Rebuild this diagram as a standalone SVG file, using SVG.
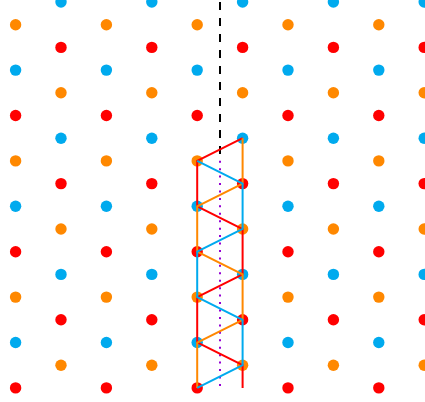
<svg xmlns="http://www.w3.org/2000/svg" width="425" height="402" viewBox="0 0 425 402">
<style>
.b{fill:#00aaee}.o{fill:#ff8800}.r{fill:#ff0000}
circle{stroke:none}
.ln{fill:none;stroke-width:2;stroke-linejoin:miter}
</style>
<rect width="425" height="402" fill="#ffffff"/>
<g id="lattice">
<g id="blue-dots" class="b">
<circle cx="61" cy="2" r="5.7"/><circle cx="151.8" cy="2" r="5.7"/><circle cx="242.6" cy="2" r="5.7"/><circle cx="333.4" cy="2" r="5.7"/><circle cx="424.2" cy="2" r="5.7"/>
<circle cx="15.6" cy="70.1" r="5.7"/><circle cx="106.4" cy="70.1" r="5.7"/><circle cx="197.2" cy="70.1" r="5.7"/><circle cx="288" cy="70.1" r="5.7"/><circle cx="378.8" cy="70.1" r="5.7"/>
<circle cx="61" cy="138.2" r="5.7"/><circle cx="151.8" cy="138.2" r="5.7"/><circle cx="242.6" cy="138.2" r="5.7"/><circle cx="333.4" cy="138.2" r="5.7"/><circle cx="424.2" cy="138.2" r="5.7"/>
<circle cx="15.6" cy="206.3" r="5.7"/><circle cx="106.4" cy="206.3" r="5.7"/><circle cx="197.2" cy="206.3" r="5.7"/><circle cx="288" cy="206.3" r="5.7"/><circle cx="378.8" cy="206.3" r="5.7"/>
<circle cx="61" cy="274.4" r="5.7"/><circle cx="151.8" cy="274.4" r="5.7"/><circle cx="242.6" cy="274.4" r="5.7"/><circle cx="333.4" cy="274.4" r="5.7"/><circle cx="424.2" cy="274.4" r="5.7"/>
<circle cx="15.6" cy="342.5" r="5.7"/><circle cx="106.4" cy="342.5" r="5.7"/><circle cx="197.2" cy="342.5" r="5.7"/><circle cx="288" cy="342.5" r="5.7"/><circle cx="378.8" cy="342.5" r="5.7"/>
</g>
<g id="orange-dots" class="o">
<circle cx="15.6" cy="24.7" r="5.7"/><circle cx="106.4" cy="24.7" r="5.7"/><circle cx="197.2" cy="24.7" r="5.7"/><circle cx="288" cy="24.7" r="5.7"/><circle cx="378.8" cy="24.7" r="5.7"/>
<circle cx="61" cy="92.8" r="5.7"/><circle cx="151.8" cy="92.8" r="5.7"/><circle cx="242.6" cy="92.8" r="5.7"/><circle cx="333.4" cy="92.8" r="5.7"/><circle cx="424.2" cy="92.8" r="5.7"/>
<circle cx="15.6" cy="160.9" r="5.7"/><circle cx="106.4" cy="160.9" r="5.7"/><circle cx="197.2" cy="160.9" r="5.7"/><circle cx="288" cy="160.9" r="5.7"/><circle cx="378.8" cy="160.9" r="5.7"/>
<circle cx="61" cy="229" r="5.7"/><circle cx="151.8" cy="229" r="5.7"/><circle cx="242.6" cy="229" r="5.7"/><circle cx="333.4" cy="229" r="5.7"/><circle cx="424.2" cy="229" r="5.7"/>
<circle cx="15.6" cy="297.1" r="5.7"/><circle cx="106.4" cy="297.1" r="5.7"/><circle cx="197.2" cy="297.1" r="5.7"/><circle cx="288" cy="297.1" r="5.7"/><circle cx="378.8" cy="297.1" r="5.7"/>
<circle cx="61" cy="365.2" r="5.7"/><circle cx="151.8" cy="365.2" r="5.7"/><circle cx="242.6" cy="365.2" r="5.7"/><circle cx="333.4" cy="365.2" r="5.7"/><circle cx="424.2" cy="365.2" r="5.7"/>
</g>
<g id="red-dots" class="r">
<circle cx="61" cy="47.4" r="5.7"/><circle cx="151.8" cy="47.4" r="5.7"/><circle cx="242.6" cy="47.4" r="5.7"/><circle cx="333.4" cy="47.4" r="5.7"/><circle cx="424.2" cy="47.4" r="5.7"/>
<circle cx="15.6" cy="115.5" r="5.7"/><circle cx="106.4" cy="115.5" r="5.7"/><circle cx="197.2" cy="115.5" r="5.7"/><circle cx="288" cy="115.5" r="5.7"/><circle cx="378.8" cy="115.5" r="5.7"/>
<circle cx="61" cy="183.6" r="5.7"/><circle cx="151.8" cy="183.6" r="5.7"/><circle cx="242.6" cy="183.6" r="5.7"/><circle cx="333.4" cy="183.6" r="5.7"/><circle cx="424.2" cy="183.6" r="5.7"/>
<circle cx="15.6" cy="251.7" r="5.7"/><circle cx="106.4" cy="251.7" r="5.7"/><circle cx="197.2" cy="251.7" r="5.7"/><circle cx="288" cy="251.7" r="5.7"/><circle cx="378.8" cy="251.7" r="5.7"/>
<circle cx="61" cy="319.8" r="5.7"/><circle cx="151.8" cy="319.8" r="5.7"/><circle cx="242.6" cy="319.8" r="5.7"/><circle cx="333.4" cy="319.8" r="5.7"/><circle cx="424.2" cy="319.8" r="5.7"/>
<circle cx="15.6" cy="387.9" r="5.7"/><circle cx="106.4" cy="387.9" r="5.7"/><circle cx="197.2" cy="387.9" r="5.7"/><circle cx="288" cy="387.9" r="5.7"/><circle cx="378.8" cy="387.9" r="5.7"/>
</g>
</g>
<g id="connectors">
<line x1="220" y1="2" x2="220" y2="154" stroke="#000000" stroke-width="2" stroke-dasharray="8 8"/>
<line x1="220" y1="160.7" x2="220" y2="387" stroke="#9400d3" stroke-width="2" stroke-dasharray="2 5.44"/>
<path class="ln" stroke="#ff0000" d="M242.6,138.2 L197.2,160.9 L197.2,206.3 L242.6,229 L242.6,274.4 L197.2,297.1 L197.2,342.5 L242.6,365.2 L242.6,387.9"/>
<path class="ln" stroke="#ff8800" d="M242.6,138.2 L242.6,183.6 L197.2,206.3 L197.2,251.7 L242.6,274.4 L242.6,319.8 L197.2,342.5 L197.2,387.9"/>
<path class="ln" stroke="#00aaee" d="M197.2,160.9 L242.6,183.6 L242.6,229 L197.2,251.7 L197.2,297.1 L242.6,319.8 L242.6,365.2 L197.2,387.9"/>
</g>
</svg>
